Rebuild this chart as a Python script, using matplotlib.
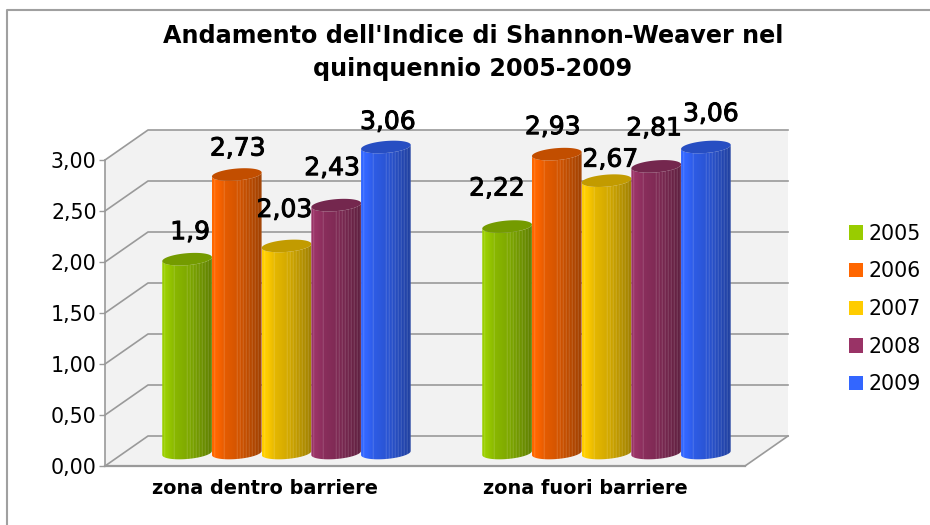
import numpy as np
import matplotlib
matplotlib.use("Agg")
import matplotlib.pyplot as plt
from matplotlib.patches import Patch, Polygon, PathPatch
from matplotlib.path import Path
import matplotlib.patheffects as pe

zone = ["zona dentro barriere", "zona fuori barriere"]
anni = ["2005", "2006", "2007", "2008", "2009"]
colori = ["#99cc00", "#ff6600", "#ffcc00", "#993366", "#3366ff"]
valori = [
    [1.9, 2.73, 2.03, 2.43, 3.06],
    [2.22, 2.93, 2.67, 2.81, 3.06],
]
etichette = [
    ["1,9", "2,73", "2,03", "2,43", "3,06"],
    ["2,22", "2,93", "2,67", "2,81", "3,06"],
]
# where the value labels sit relative to the cylinder top, in pixels
spost_x = [[3, 1, -2, -4, 2], [-10, -4, 4, -2, 5]]
spost_y = [[27, 26, 36, 37, 25], [38, 27, 21, 38, 33]]
tacche = [0, 0.5, 1, 1.5, 2, 2.5, 3]
tacche_txt = ["0,00", "0,50", "1,00", "1,50", "2,00", "2,50", "3,00"]

W, H = 930, 525
L, R, B, T = 105, 745, 466, 160
PX = 2 / (R - L)  # x data units per pixel
PY = 3 / (B - T)  # y data units per pixel
DX, DY = 43 * PX, 30 * PY  # depth of the 3d box

fig = plt.figure(figsize=(W / 100, H / 100), dpi=100)
ax = fig.add_axes([L / W, 1 - B / H, (R - L) / W, (B - T) / H])
ax.set_xlim(-0.5, 1.5)
ax.set_ylim(0, 3)
ax.patch.set_visible(False)
for s in ax.spines.values():
    s.set_visible(False)

# box: floor, left wall, back wall
ax.add_patch(Polygon([(-0.5, 0), (1.5, 0), (1.5 + DX, DY), (-0.5 + DX, DY)], fc="#f2f2f2", ec="none", clip_on=False))
ax.add_patch(Polygon([(-0.5, 0), (-0.5 + DX, DY), (-0.5 + DX, 3 + DY), (-0.5, 3)], fc="#f2f2f2", ec="none", clip_on=False))
ax.add_patch(Polygon([(-0.5 + DX, DY), (1.5 + DX, DY), (1.5 + DX, 3 + DY), (-0.5 + DX, 3 + DY)], fc="#f2f2f2", ec="none", clip_on=False))
griglia = "#9a9a9a"
for t in tacche:
    ax.plot([-0.5, -0.5 + DX, 1.5 + DX], [t, t + DY, t + DY], color=griglia, lw=1.2, clip_on=False, zorder=1)
ax.plot([1.5, 1.5 + DX], [0, DY], color=griglia, lw=1.2, clip_on=False, zorder=1)
ax.plot([-0.5, 1.5], [0, 0], color=griglia, lw=1.6, clip_on=False, zorder=1)
ax.plot([-0.5, -0.5], [0, 3], color=griglia, lw=1.2, clip_on=False, zorder=1)

ax.set_xticks([0, 1], zone, fontsize=13.9, fontweight="bold", color="black")
ax.set_yticks(tacche, tacche_txt, fontsize=14.8, color="black")
ax.tick_params(axis="x", length=0, pad=9)
ax.tick_params(axis="y", length=4, width=1, color=griglia, pad=2)


def sfumatura(colore):
    # horizontal shading of the cylinder side with its thin light facets
    n = 100
    u = np.linspace(0, 1, n)
    luce = np.interp(u, [0, 0.1, 0.25, 0.55, 1], [1.02, 1.0, 0.9, 0.82, 0.62])
    rgb = np.array(matplotlib.colors.to_rgb(colore))
    riga = np.clip(luce[:, None] * rgb, 0, 1)
    passi = np.concatenate([[0.05, 0.24], np.arange(0.5, 1, 0.06)])
    for p in passi:
        i = int(p * n)
        riga[i:i + 1] = riga[i:i + 1] + (1 - riga[i:i + 1]) * 0.3
    return riga[None, :, :]


larg = 49.7 * PX
base = 13 * PY
ry = 6 * PY
tilt = 2 * PY
centri = np.arange(5) * 49.7 - 99.4
group_dx = 21.5
t_giro = np.linspace(0, 2 * np.pi, 80)

for g in range(2):
    for i in range(5):
        cx = g + (group_dx + centri[i]) * PX
        # the axis stops at 3,00 and the tallest cylinders are cut there
        h = base + min(valori[g][i], 3.0)
        a = np.linspace(np.pi, 2 * np.pi, 40)
        xb = cx + larg / 2 * np.cos(a)
        yb = base + ry * np.sin(a) + tilt * np.cos(a)
        at = a[::-1]
        xt = cx + larg / 2 * np.cos(at)
        yt = h + ry * np.sin(at) + tilt * np.cos(at)
        vert = np.column_stack([np.r_[xb, xt], np.r_[yb, yt]])
        corpo = PathPatch(Path(np.vstack([vert, vert[0]])), fc="none", ec="none", clip_on=False)
        ax.add_patch(corpo)
        zo = 3 + i
        im = ax.imshow(sfumatura(colori[i]), extent=[cx - larg / 2, cx + larg / 2, -0.2, 4],
                       aspect="auto", interpolation="bilinear", zorder=zo)
        im.set_clip_box(fig.bbox)
        im.set_clip_path(corpo)
        sopra = np.column_stack([cx + larg / 2 * np.cos(t_giro),
                                 h + ry * np.sin(t_giro) + tilt * np.cos(t_giro)])
        scuro = np.array(matplotlib.colors.to_rgb(colori[i])) * 0.76
        ax.add_patch(Polygon(sopra, fc=scuro, ec="none", zorder=zo, clip_on=False))
        ax.annotate(etichette[g][i], (cx, h), xytext=(spost_x[g][i] * 0.72, spost_y[g][i] * 0.72),
                    textcoords="offset points", ha="center", va="center", fontsize=18, color="black", zorder=10,
                    annotation_clip=False, path_effects=[pe.withStroke(linewidth=0.7, foreground="black")])
ax.set_xlim(-0.5, 1.5)
ax.set_ylim(0, 3)

fig.text(473 / W, 1 - 52.5 / H, "Andamento dell'Indice di Shannon-Weaver nel\nquinquennio 2005-2009",
         ha="center", va="center", fontsize=17.2, fontweight="bold", linespacing=1.48)

fig.legend(handles=[Patch(fc=c, ec="none", label=a) for c, a in zip(colori, anni)],
           loc="center left", bbox_to_anchor=(849 / W, 1 - 309 / H), frameon=False, fontsize=14.8,
           handlelength=0.7, handleheight=0.7, handletextpad=0.25, labelspacing=0.86, borderpad=0, borderaxespad=0)

# thin frame of the chart object
fig.add_artist(plt.Line2D([6.5 / W, 6.5 / W, 930 / W], [0, 1 - 10 / H, 1 - 10 / H], color="#a0a0a0", lw=1.5))

fig.savefig("out.png", dpi=100)
